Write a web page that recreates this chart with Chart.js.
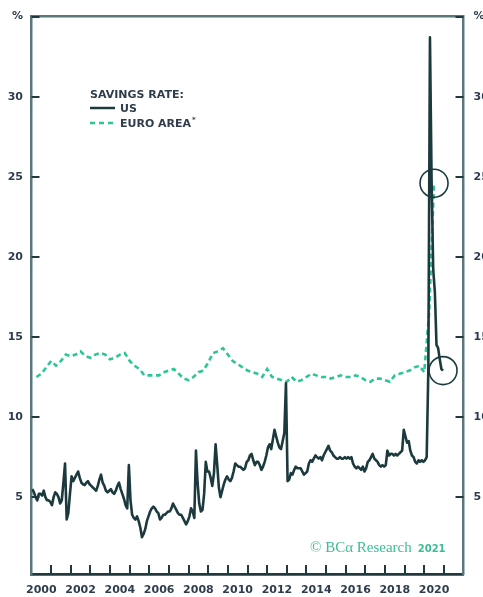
<!DOCTYPE html>
<html>
<head>
<meta charset="utf-8">
<script src="https://cdn.jsdelivr.net/npm/chart.js@4/dist/chart.umd.min.js"></script>
<style>
  html, body { margin: 0; padding: 0; background: #ffffff; overflow: hidden; }
  #wrap { width: 483px; height: 597px; position: relative; }
</style>
</head>
<body>
<div id="wrap"><canvas id="chart" width="483" height="597"></canvas></div>
<script>
// US personal saving rate, monthly, Jan 2000 - Dec 2020 (%)
const usStartYear = 2000;
const usSavingsRate = [
  5.5, 5.3, 5.0, 4.8, 5.2, 5.2, 5.1, 5.4, 5.0, 4.8, 4.8, 4.7,   // 2000
  4.5, 5.0, 5.3, 5.2, 5.0, 4.6, 4.8, 5.9, 7.1, 3.6, 4.0, 5.2,   // 2001
  6.3, 6.0, 6.2, 6.4, 6.6, 6.2, 5.9, 5.8, 5.75, 5.9, 6.0, 5.8,  // 2002
  5.7, 5.6, 5.5, 5.4, 5.7, 6.1, 6.4, 5.9, 5.7, 5.4, 5.3, 5.4,   // 2003
  5.5, 5.3, 5.2, 5.4, 5.7, 5.9, 5.5, 5.2, 4.9, 4.5, 4.3, 7.0,   // 2004
  4.8, 3.9, 3.7, 3.6, 3.8, 3.5, 3.1, 2.5, 2.7, 3.0, 3.5, 3.8,   // 2005
  4.1, 4.3, 4.4, 4.3, 4.1, 4.0, 3.6, 3.7, 3.9, 3.9, 4.0, 4.1,   // 2006
  4.1, 4.3, 4.6, 4.4, 4.2, 4.0, 3.9, 3.9, 3.7, 3.5, 3.3, 3.5,   // 2007
  3.8, 4.3, 4.1, 3.7, 7.9, 5.9, 4.6, 4.1, 4.2, 5.2, 7.2, 6.6,   // 2008
  6.6, 6.2, 5.7, 6.5, 8.3, 7.0, 5.6, 5.0, 5.4, 5.8, 6.1, 6.3,   // 2009
  6.1, 6.0, 6.2, 6.6, 7.1, 7.0, 6.9, 6.9, 6.8, 6.7, 6.8, 7.2,   // 2010
  7.3, 7.6, 7.7, 7.3, 7.0, 7.2, 7.2, 7.0, 6.7, 6.9, 7.2, 7.6,   // 2011
  8.1, 8.3, 8.0, 8.6, 9.2, 8.8, 8.4, 8.1, 8.0, 8.5, 9.0, 12.1,  // 2012
  6.0, 6.1, 6.5, 6.4, 6.7, 6.9, 6.8, 6.8, 6.8, 6.6, 6.4, 6.5,   // 2013
  6.6, 7.1, 7.3, 7.2, 7.4, 7.6, 7.5, 7.4, 7.5, 7.3, 7.6, 7.8,   // 2014
  8.0, 8.2, 7.9, 7.8, 7.6, 7.5, 7.4, 7.4, 7.5, 7.4, 7.4, 7.5,   // 2015
  7.4, 7.5, 7.4, 7.5, 7.1, 6.9, 6.8, 6.9, 6.8, 6.7, 6.9, 6.6,   // 2016
  6.8, 7.2, 7.3, 7.5, 7.7, 7.4, 7.3, 7.2, 7.0, 6.9, 7.0, 6.9,   // 2017
  7.0, 7.9, 7.6, 7.7, 7.7, 7.6, 7.7, 7.6, 7.7, 7.8, 7.9, 9.2,   // 2018
  8.8, 8.4, 8.5, 7.9, 7.6, 7.5, 7.2, 7.1, 7.3, 7.2, 7.3, 7.2,   // 2019
  7.3, 7.5, 12.9, 33.7, 24.8, 19.2, 17.8, 14.5, 14.3, 13.6, 13.0, 12.9 // 2020
];

// Euro area household saving rate, quarterly, Q1 2000 - Q2 2020 (%)
const euroStartYear = 2000;
const euroSavingsRate = [
  12.5, 12.7, 13.1, 13.5,   // 2000
  13.2, 13.5, 13.9, 13.8,   // 2001
  13.9, 14.1, 13.8, 13.7,   // 2002
  13.9, 14.0, 13.9, 13.6,   // 2003
  13.7, 13.9, 14.0, 13.5,   // 2004
  13.2, 13.0, 12.6, 12.6,   // 2005
  12.6, 12.6, 12.8, 12.9,   // 2006
  13.0, 12.7, 12.4, 12.3,   // 2007
  12.5, 12.8, 12.9, 13.4,   // 2008
  14.0, 14.1, 14.3, 13.9,   // 2009
  13.5, 13.3, 13.1, 12.9,   // 2010
  12.8, 12.7, 12.5, 13.0,   // 2011
  12.5, 12.4, 12.3, 12.2,   // 2012
  12.5, 12.2, 12.3, 12.5,   // 2013
  12.7, 12.6, 12.5, 12.5,   // 2014
  12.4, 12.5, 12.6, 12.5,   // 2015
  12.5, 12.6, 12.5, 12.3,   // 2016
  12.2, 12.4, 12.4, 12.3,   // 2017
  12.2, 12.6, 12.7, 12.8,   // 2018
  12.9, 13.1, 13.2, 12.8,   // 2019
  16.5, 24.6                // 2020
];

// Axis ticks and labels
const yTickValues = [5, 10, 15, 20, 25, 30, 35];
const yTickLabels = ['5', '10', '15', '20', '25', '30', '%'];
const xLabelYears = [2000, 2002, 2004, 2006, 2008, 2010, 2012, 2014, 2016, 2018, 2020];
const xYearMarks = [2001, 2002, 2003, 2004, 2005, 2006, 2007, 2008, 2009, 2010, 2011,
                    2012, 2013, 2014, 2015, 2016, 2017, 2018, 2019, 2020, 2021];

const US_COLOR = '#1c3a3d';
const EURO_COLOR = '#2ec496';
const TEXT_COLOR = '#2e3c4c';
const FRAME_COLOR = '#5a787c';
const TICK_COLOR = '#1f3a3d';
const FONT = 'DejaVu Sans';

// monthly points sit mid-month, quarterly points at quarter end
const usPoints = usSavingsRate.map((v, j) => ({ x: usStartYear + (j + 0.5) / 12, y: v }));
const euroPoints = euroSavingsRate.map((v, i) => ({ x: euroStartYear + (i + 1) / 4, y: v }));

const yLabel = (value) => {
  const k = yTickValues.indexOf(value);
  return k >= 0 ? yTickLabels[k] : '';
};

// inward tick marks on the frame
const frameTicks = {
  id: 'frameTicks',
  afterDraw(chart) {
    const { ctx, chartArea: a, scales } = chart;
    ctx.save();
    ctx.strokeStyle = TICK_COLOR;
    ctx.lineWidth = 2;
    ctx.beginPath();
    yTickValues.forEach(v => {
      const py = Math.round(scales.y.getPixelForValue(v));
      ctx.moveTo(a.left, py); ctx.lineTo(a.left + 8, py);
      ctx.moveTo(a.right, py); ctx.lineTo(a.right - 8, py);
    });
    xYearMarks.forEach(yr => {
      const px = Math.round(scales.x.getPixelForValue(yr));
      ctx.moveTo(px, a.bottom); ctx.lineTo(px, a.bottom - 9);
    });
    ctx.stroke();
    ctx.restore();
  }
};

// rings around the latest reading of each series
const endRings = {
  id: 'endRings',
  afterDatasetsDraw(chart) {
    const { ctx } = chart;
    ctx.save();
    ctx.strokeStyle = US_COLOR;
    ctx.lineWidth = 1.6;
    chart.data.datasets.forEach((ds, i) => {
      const pts = chart.getDatasetMeta(i).data;
      const p = pts[pts.length - 1];
      ctx.beginPath();
      ctx.arc(p.x, p.y, 14, 0, Math.PI * 2);
      ctx.stroke();
    });
    ctx.restore();
  }
};

// key and source note
const annotations = {
  id: 'annotations',
  afterDraw(chart) {
    const { ctx } = chart;
    ctx.save();
    ctx.textBaseline = 'middle';
    ctx.fillStyle = TEXT_COLOR;
    ctx.font = `bold 11px "${FONT}"`;
    ctx.fillText('SAVINGS RATE:', 90, 95);
    ctx.fillText('US', 120, 109);
    ctx.fillText('EURO AREA', 120, 124);
    const w = ctx.measureText('EURO AREA').width;
    ctx.font = `bold 7px "${FONT}"`;
    ctx.fillText('*', 120 + w + 1, 120);

    ctx.lineWidth = 2.5;
    ctx.strokeStyle = US_COLOR;
    ctx.beginPath(); ctx.moveTo(90, 108); ctx.lineTo(115, 108); ctx.stroke();
    ctx.strokeStyle = EURO_COLOR;
    ctx.setLineDash([5, 4]);
    ctx.beginPath(); ctx.moveTo(90, 123); ctx.lineTo(115, 123); ctx.stroke();
    ctx.setLineDash([]);

    ctx.textBaseline = 'alphabetic';
    ctx.fillStyle = '#3dbd95';
    ctx.font = '15px "Liberation Serif"';
    const src = '\u00A9 BC\u03B1 Research';
    ctx.fillText(src, 310, 552);
    const sw = ctx.measureText(src).width;
    ctx.font = `bold 10px "${FONT}"`;
    ctx.fillText('2021', 310 + sw + 6, 552);
    ctx.restore();
  }
};

const yAxisBase = (position, width, pad) => ({
  type: 'linear',
  position,
  min: 0.2,
  max: 35,
  afterBuildTicks: s => { s.ticks = yTickValues.map(v => ({ value: v })); },
  afterFit: s => { s.width = width; },
  grid: { display: false, drawTicks: false },
  border: { display: true, color: FRAME_COLOR, width: 2.5 },
  ticks: {
    padding: pad,
    color: TEXT_COLOR,
    font: { family: FONT, weight: 'bold', size: 11 },
    callback: yLabel
  }
});

new Chart(document.getElementById('chart'), {
  type: 'line',
  data: {
    datasets: [
      {
        label: 'US',
        data: usPoints,
        xAxisID: 'x', yAxisID: 'y',
        borderColor: US_COLOR,
        borderWidth: 2.6,
        pointRadius: 0,
        tension: 0,
        borderJoinStyle: 'round'
      },
      {
        label: 'EURO AREA*',
        data: euroPoints,
        xAxisID: 'x', yAxisID: 'y',
        borderColor: EURO_COLOR,
        borderWidth: 2.6,
        borderDash: [5, 3.5],
        pointRadius: 0,
        tension: 0
      }
    ]
  },
  options: {
    responsive: false,
    animation: false,
    devicePixelRatio: 1,
    layout: { padding: 0 },
    plugins: { legend: { display: false }, tooltip: { enabled: false } },
    scales: {
      x: {
        type: 'linear',
        position: 'bottom',
        min: 2000,
        max: 2022,
        afterBuildTicks: s => { s.ticks = xLabelYears.map(y => ({ value: y + 0.5 })); },
        afterFit: s => { s.height = 23; },
        grid: { display: false, drawTicks: false },
        border: { display: true, color: '#203a3d', width: 2.8 },
        ticks: {
          autoSkip: false,
          maxRotation: 0,
          padding: 10,
          color: TEXT_COLOR,
          font: { family: FONT, weight: 'bold', size: 11 },
          callback: v => String(Math.floor(v))
        }
      },
      xTop: {
        type: 'linear',
        position: 'top',
        min: 2000,
        max: 2022,
        afterFit: s => { s.height = 15; },
        grid: { display: false, drawTicks: false },
        border: { display: true, color: FRAME_COLOR, width: 2.5 },
        ticks: { display: false }
      },
      y: yAxisBase('left', 31.5, 8.5),
      y2: yAxisBase('right', 19.5, 10)
    }
  },
  plugins: [frameTicks, endRings, annotations]
});
</script>
</body>
</html>
